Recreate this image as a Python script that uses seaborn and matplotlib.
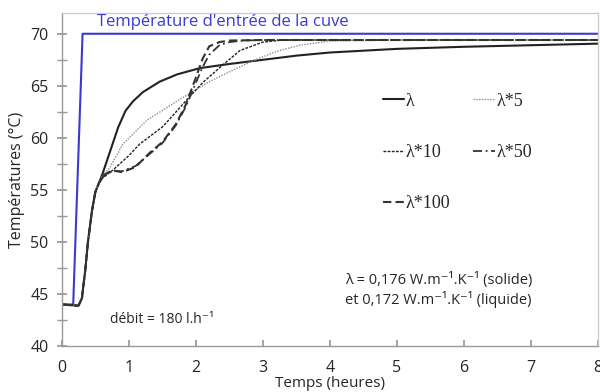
import matplotlib
matplotlib.use("Agg")
import matplotlib.pyplot as plt
import seaborn as sns
import pandas as pd
from matplotlib.ticker import MultipleLocator

# ---- data ----
inlet_t = [0, 0.17, 0.31, 8]
inlet_T = [44, 44, 70, 70]

t_lam = [0, 0.2, 0.25, 0.3, 0.35, 0.39, 0.45, 0.5, 0.55, 0.61, 0.72, 0.84, 0.95, 1.06, 1.21, 1.46, 1.72, 2.06, 2.5, 3.0, 3.5, 4.0, 5.0, 6.0, 7.0, 8.0]
T_lam = [44, 43.9, 43.9, 44.6, 47.3, 50, 53, 54.8, 55.6, 56.6, 58.7, 61.0, 62.6, 63.5, 64.4, 65.4, 66.1, 66.7, 67.1, 67.5, 67.9, 68.2, 68.55, 68.75, 68.9, 69.05]

t_x5 = [0, 0.2, 0.25, 0.3, 0.35, 0.39, 0.45, 0.5, 0.55, 0.6, 0.72, 0.91, 1.27, 1.76, 2.2, 2.55, 2.85, 3.2, 3.55, 4.0, 5.0, 8.0]
T_x5 = [44, 43.9, 43.9, 44.6, 47.3, 50, 53, 54.8, 55.6, 56.3, 57.2, 59.4, 61.7, 63.7, 65.4, 66.5, 67.4, 68.3, 68.9, 69.3, 69.4, 69.4]

t_x10 = [0, 0.2, 0.25, 0.3, 0.35, 0.39, 0.45, 0.5, 0.55, 0.6, 0.76, 1.0, 1.16, 1.51, 1.87, 2.1, 2.4, 2.66, 3.0, 3.3, 4.0, 8.0]
T_x10 = [44, 43.9, 43.9, 44.6, 47.3, 50, 53, 54.8, 55.6, 56.1, 56.9, 58.3, 59.4, 61.1, 63.7, 65.3, 67.0, 68.4, 69.2, 69.4, 69.4, 69.4]

t_x50 = [0, 0.2, 0.25, 0.3, 0.35, 0.39, 0.45, 0.5, 0.55, 0.62, 0.75, 0.9, 1.1, 1.3, 1.5, 1.7, 1.85, 2.0, 2.1, 2.2, 2.35, 2.5, 2.7, 3.0, 8.0]
T_x50 = [44, 43.9, 43.9, 44.6, 47.3, 50, 53, 54.8, 55.6, 56.3, 56.8, 56.8, 57.3, 58.4, 59.5, 61.2, 63.0, 65.3, 66.8, 68.0, 68.9, 69.2, 69.35, 69.4, 69.4]

t_x100 = [0, 0.2, 0.25, 0.3, 0.35, 0.39, 0.45, 0.5, 0.55, 0.62, 0.75, 0.9, 1.1, 1.3, 1.5, 1.7, 1.85, 2.0, 2.1, 2.2, 2.35, 2.5, 3.0, 8.0]
T_x100 = [44, 43.9, 43.9, 44.6, 47.3, 50, 53, 54.8, 55.6, 56.4, 56.9, 56.7, 57.2, 58.5, 59.6, 61.3, 63.2, 65.8, 67.6, 68.8, 69.2, 69.35, 69.4, 69.4]

labels = ["λ", "λ*5", "λ*10", "λ*50", "λ*100"]
xticks = [0, 1, 2, 3, 4, 5, 6, 7, 8]
yticks = [40, 45, 50, 55, 60, 65, 70]

sns.set_theme(style="white")
plt.rcParams["font.family"] = ["Open Sans", "DejaVu Sans"]

fig = plt.figure(figsize=(6.0, 3.92), dpi=100)
ax = fig.add_axes([0.103, 0.117, 0.894, 0.850])

sns.lineplot(x=inlet_t, y=inlet_T, ax=ax, color="#3a3ad0", lw=1.5, sort=False, estimator=None)

series = [
    (t_lam, T_lam, dict(color="#222222", lw=1.5, linestyle="-")),
    (t_x5, T_x5, dict(color="#8a8a8a", lw=1.0, linestyle=(0, (1, 1)))),
    (t_x10, T_x10, dict(color="#222222", lw=1.0, linestyle=(0, (2, 1)))),
    (t_x50, T_x50, dict(color="#333333", lw=1.3, linestyle=(0, (5, 2, 1, 2)))),
    (t_x100, T_x100, dict(color="#333333", lw=1.5, linestyle=(0, (4, 2)))),
]
for (tx, ty, st), lab in zip(series, labels):
    sns.lineplot(x=tx, y=ty, ax=ax, label=lab, estimator=None, **st)

ax.set_xlim(0, 8)
ax.set_ylim(40, 72)
ax.set_xticks(xticks)
ax.set_yticks(yticks)
ax.yaxis.set_minor_locator(MultipleLocator(2.5))
ax.tick_params(axis="x", direction="in", length=4, color="#999999", labelsize=11.5, pad=10, bottom=True)
ax.tick_params(axis="y", which="both", direction="inout", length=7, color="#999999", labelsize=11.5, left=True, pad=6)
for s in ["left", "bottom"]:
    ax.spines[s].set_color("#999999")
for s in ["top", "right"]:
    ax.spines[s].set_color("#cccccc")
for s in ax.spines.values():
    s.set_linewidth(1.0)

ax.set_xlabel("Temps (heures)", fontsize=11, labelpad=0)
ax.set_ylabel("Températures (°C)", fontsize=11.5, labelpad=4)

ax.text(0.53, 71.15, "Température d'entrée de la cuve", color="#3a3ad0", fontsize=12, va="center", ha="left")
ax.text(4.22, 46.35, "λ = 0,176 W.m⁻¹.K⁻¹ (solide)", fontsize=10.5, va="center", ha="left")
ax.text(4.22, 44.5, "et 0,172 W.m⁻¹.K⁻¹ (liquide)", fontsize=10.5, va="center", ha="left")
ax.text(0.72, 42.6, "débit = 180 l.h⁻¹", fontsize=10, va="center", ha="left")

h, l = ax.get_legend_handles_labels()
order = [0, 2, 4, 1, 3]
leg = ax.legend([h[i] for i in order], [l[i] for i in order], ncol=2, frameon=False,
                loc="upper left", bbox_to_anchor=(0.585, 0.782), handlelength=1.2, handletextpad=0.05,
                labelspacing=1.9, columnspacing=1.3, borderaxespad=0,
                prop={"family": ["Liberation Serif", "DejaVu Serif"], "size": 13})

fig.savefig("out.png", dpi=100)
